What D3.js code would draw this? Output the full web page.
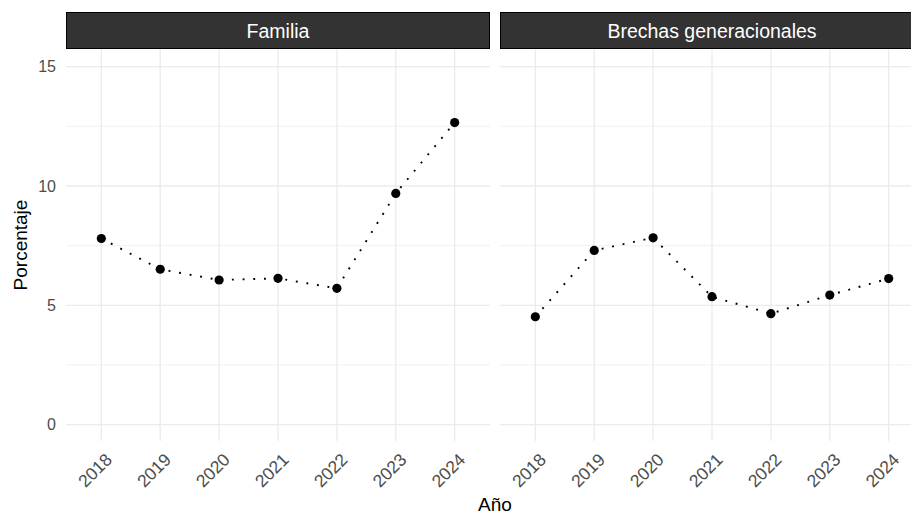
<!DOCTYPE html>
<html>
<head>
<meta charset="utf-8">
<script src="https://cdn.jsdelivr.net/npm/d3@7"></script>
<style>
  body { margin: 0; background: #fff; }
  svg { display: block; font-family: "Liberation Sans", Arial, Helvetica, sans-serif; }
</style>
</head>
<body>
<div id="chartdiv"></div>
<script>
/*global d3 */

var years = ["2018", "2019", "2020", "2021", "2022", "2023", "2024"],
    facets = ["Familia", "Brechas generacionales"],
    familiaVals = [7.80, 6.51, 6.06, 6.13, 5.71, 9.69, 12.66],
    brechasVals = [4.52, 7.30, 7.83, 5.36, 4.65, 5.43, 6.12],
    yTicks = [0, 5, 10, 15],
    yMinor = [2.5, 7.5, 12.5];

var chart = (function () {
    "use strict";

    var W = 911, H = 516,
        panelW = 424, panelGap = 10, left = 66,
        stripTop = 12, panelTop = 49, panelBot = 441;

    function drawPanel (svg, idx, name, vals, y) {
        var x0 = left + idx * (panelW + panelGap),
            x = d3.scalePoint().domain(years)
                .range([x0, x0 + panelW]).padding(0.6),
            g = svg.append("g"), line;
        //grid first, minor lines a bit thinner
        g.selectAll("line.minor").data(yMinor).enter().append("line")
            .attr("x1", x0).attr("x2", x0 + panelW)
            .attr("y1", y).attr("y2", y)
            .attr("stroke", "#ebebeb").attr("stroke-width", 0.7);
        g.selectAll("line.hmaj").data(yTicks).enter().append("line")
            .attr("x1", x0).attr("x2", x0 + panelW)
            .attr("y1", y).attr("y2", y)
            .attr("stroke", "#ebebeb").attr("stroke-width", 1.3);
        g.selectAll("line.vmaj").data(years).enter().append("line")
            .attr("x1", x).attr("x2", x)
            .attr("y1", panelTop).attr("y2", panelBot)
            .attr("stroke", "#ebebeb").attr("stroke-width", 1.3);
        //strip
        g.append("rect")
            .attr("x", x0 + 0.5).attr("y", stripTop + 0.5)
            .attr("width", panelW - 1).attr("height", panelTop - stripTop - 1)
            .attr("fill", "#333333").attr("stroke", "#000")
            .attr("stroke-width", 1);
        g.append("text")
            .attr("x", x0 + panelW / 2).attr("y", (stripTop + panelTop) / 2)
            .attr("dy", "0.36em").attr("text-anchor", "middle")
            .attr("font-size", 19.5).attr("fill", "#fff")
            .text(name);
        //dotted line and points
        line = d3.line()
            .x(function (d, i) { return x(years[i]); })
            .y(function (d) { return y(d); });
        g.append("path").datum(vals)
            .attr("d", line).attr("fill", "none")
            .attr("stroke", "#000").attr("stroke-width", 1.9)
            .attr("stroke-dasharray", "1.9 8.8");
        g.selectAll("circle").data(vals).enter().append("circle")
            .attr("cx", function (d, i) { return x(years[i]); })
            .attr("cy", y).attr("r", 4.6).attr("fill", "#000");
        //rotated year labels
        g.selectAll("text.yr").data(years).enter().append("text")
            .attr("transform", function (d) {
                return "translate(" + (x(d) + 3) + "," + 452 + ") rotate(-45)"; })
            .attr("dy", "0.71em").attr("text-anchor", "end")
            .attr("font-size", 17.5).attr("fill", "#4d4d4d")
            .text(function (d) { return d; });
        if(idx === 0) {
            g.selectAll("text.yt").data(yTicks).enter().append("text")
                .attr("x", 56).attr("y", y).attr("dy", "0.36em")
                .attr("text-anchor", "end").attr("font-size", 16)
                .attr("fill", "#4d4d4d")
                .text(function (d) { return d; }); }
    }

    function display () {
        var svg, y;
        svg = d3.select("#chartdiv").append("svg")
            .attr("width", W).attr("height", H);
        y = d3.scaleLinear().domain([0, 15]).range([424.6, 66.7]);
        drawPanel(svg, 0, facets[0], familiaVals, y);
        drawPanel(svg, 1, facets[1], brechasVals, y);
        //axis titles
        svg.append("text")
            .attr("transform", "translate(27," + ((panelTop + panelBot) / 2) + ") rotate(-90)")
            .attr("text-anchor", "middle").attr("font-size", 19)
            .attr("fill", "#000").text("Porcentaje");
        svg.append("text")
            .attr("x", left + panelW + panelGap / 2).attr("y", 511)
            .attr("text-anchor", "middle").attr("font-size", 19)
            .attr("fill", "#000").text("Año");
    }

return {
    init: function () {
        display();
    }
};
}());

chart.init();
</script>
</body>
</html>
